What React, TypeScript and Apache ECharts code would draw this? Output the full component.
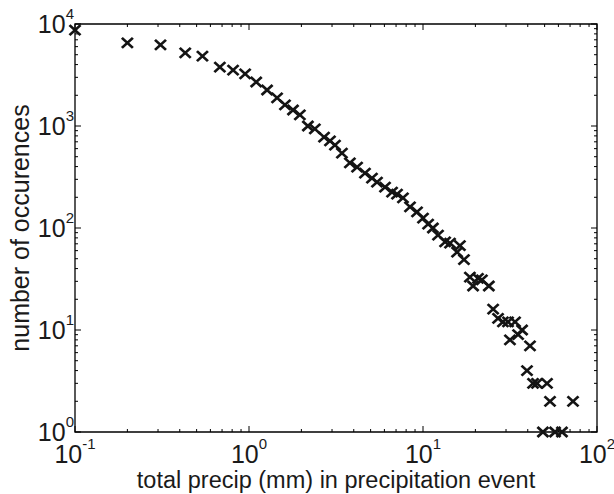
import React, { useEffect, useRef } from "react";
import * as echarts from "echarts";

// total precipitation per event (mm) and number of occurrences
const precip = [
  0.1, 0.2, 0.31, 0.43, 0.54, 0.68, 0.81, 0.95, 1.1, 1.27, 1.45, 1.61, 1.79, 1.96, 2.18, 2.39,
  2.7, 2.92, 3.12, 3.42, 3.8, 4.18, 4.64, 5.09, 5.44, 6.05, 6.64, 7.09, 7.67, 8.42, 9.24, 10.0,
  10.7, 11.4, 12.2, 13.4, 14.3, 16.3, 15.7, 17.2, 18.6, 20.7, 21.8, 19.4, 23.9, 25.3, 27.0, 28.8,
  30.8, 33.8, 37.1, 35.2, 31.6, 41.2, 39.6, 42.9, 45.2, 51.6, 53.7, 72.8, 48.9, 57.4, 62.9,
];
const occurrences = [
  8730, 6515, 6225, 5200, 4855, 3787, 3540, 3235, 2700, 2254, 1882, 1607, 1435, 1282, 1000, 935,
  780, 713, 651, 543, 434, 396, 346, 309, 282, 252, 225, 215, 197, 161, 144, 125,
  109, 100, 85, 73, 71, 67, 58, 49, 33, 32, 31, 27, 27, 16, 13, 12,
  12, 12, 10, 9, 8, 7, 4, 3, 3, 3, 2, 2, 1, 1, 1,
];

// axis decades (tick labels are 10^k)
const xDecades = [0.1, 1, 10, 100];
const yDecades = [1, 10, 100, 1000, 10000];

const X_MIN = xDecades[0];
const X_MAX = xDecades[xDecades.length - 1];
const Y_MIN = yDecades[0];
const Y_MAX = yDecades[yDecades.length - 1];

function tickList(decades: number[]) {
  const out: [number, number][] = [];
  decades.forEach((d, i) => {
    out.push([d, 1]);
    if (i < decades.length - 1) {
      for (let k = 2; k <= 9; k++) out.push([k * d, 0]);
    }
  });
  return out;
}

const TEXT = "#1a1a1a";
const FONT = "Liberation Sans, Arial, Helvetica, sans-serif";

export default function App() {
  const ref = useRef<HTMLDivElement>(null);
  useEffect(() => {
    if (!ref.current) return;
    const chart = echarts.init(ref.current, null, { renderer: "svg" });
    const labelFmt = (v: number) => {
      const e = Math.round(Math.log10(v));
      return `{b|10}{s|${e}}`;
    };
    const rich = {
      b: { fontSize: 25, lineHeight: 25, color: TEXT, fontFamily: FONT },
      s: { fontSize: 15, lineHeight: 15, padding: [0, 0, 21, 0], color: TEXT, fontFamily: FONT },
    };
    const xTicks = tickList(xDecades).map(([v, m]) => [v, Y_MIN, m]);
    const yTicks = tickList(yDecades).map(([v, m]) => [X_MIN, v, m]);
    chart.setOption({
      animation: false,
      backgroundColor: "#fff",
      grid: {
        left: 75, right: 17, top: 24, bottom: 62,
        containLabel: false, outerBoundsMode: "none",
        show: true, borderColor: "#000", borderWidth: 1.3, backgroundColor: "transparent",
      },
      xAxis: {
        type: "log", logBase: 10, min: X_MIN, max: X_MAX,
        name: "total precip (mm) in precipitation event",
        nameLocation: "middle", nameGap: 36, nameMoveOverlap: false,
        nameTextStyle: { fontSize: 23.5, color: TEXT, fontFamily: FONT },
        axisLine: { show: false }, axisTick: { show: false }, splitLine: { show: false },
        axisLabel: { formatter: labelFmt, rich, margin: 9, color: TEXT },
      },
      yAxis: {
        type: "log", logBase: 10, min: Y_MIN, max: Y_MAX,
        name: "number of occurences",
        nameLocation: "middle", nameGap: 43, nameMoveOverlap: false,
        nameTextStyle: { fontSize: 25, color: TEXT, fontFamily: FONT },
        axisLine: { show: false }, axisTick: { show: false }, splitLine: { show: false },
        axisLabel: { formatter: labelFmt, rich, margin: 1, color: TEXT },
      },
      series: [
        {
          type: "custom",
          coordinateSystem: "cartesian2d",
          clip: false,
          silent: true,
          data: xTicks,
          renderItem: (params: any, api: any) => {
            const x = api.value(0);
            const len = api.value(2) ? 6 : 3;
            const b = api.coord([x, Y_MIN]);
            const t = api.coord([x, Y_MAX]);
            const style = { stroke: "#000", lineWidth: 1 };
            return {
              type: "group",
              children: [
                { type: "line", shape: { x1: b[0], y1: b[1], x2: b[0], y2: b[1] - len }, style },
                { type: "line", shape: { x1: t[0], y1: t[1], x2: t[0], y2: t[1] + len }, style },
              ],
            };
          },
        },
        {
          type: "custom",
          coordinateSystem: "cartesian2d",
          clip: false,
          silent: true,
          data: yTicks,
          renderItem: (params: any, api: any) => {
            const y = api.value(1);
            const len = api.value(2) ? 6 : 3;
            const l = api.coord([X_MIN, y]);
            const r = api.coord([X_MAX, y]);
            const style = { stroke: "#000", lineWidth: 1 };
            return {
              type: "group",
              children: [
                { type: "line", shape: { x1: l[0], y1: l[1], x2: l[0] + len, y2: l[1] }, style },
                { type: "line", shape: { x1: r[0], y1: r[1], x2: r[0] - len, y2: r[1] }, style },
              ],
            };
          },
        },
        {
          type: "scatter",
          clip: false,
          symbol: "path://M0,0L10,10M10,0L0,10",
          symbolSize: [11, 10],
          itemStyle: { color: "transparent", borderColor: "#141414", borderWidth: 2.6, opacity: 1 },
          data: precip.map((p, i) => [p, occurrences[i]]),
        },
      ],
    });
    return () => chart.dispose();
  }, []);
  return (
    <div
      ref={ref}
      style={{ position: "absolute", left: 0, top: 0, width: 614, height: 494, background: "#fff" }}
    />
  );
}
